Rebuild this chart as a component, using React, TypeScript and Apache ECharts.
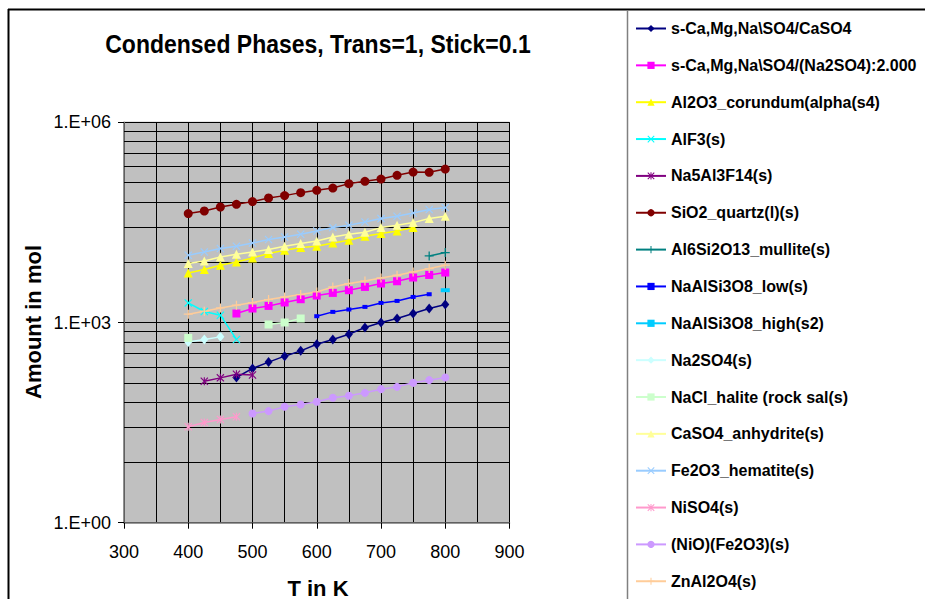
import React, { useEffect, useRef } from 'react';
import * as echarts from 'echarts';

// Temperatures (K) at which values are reported
const TEMPS = [400, 425, 450, 475, 500, 525, 550, 575, 600, 625, 650, 675, 700, 725, 750, 775, 800];

const X_TICKS = { min: 300, max: 900, interval: 100 };
const Y_RANGE = { min: 1, max: 1e6 };
// Excel-style minor gridlines of a base-1000 log axis
const Y_MINOR_LINES = [8, 27, 64, 125, 216, 343, 512, 729, 8000, 27000, 64000, 125000, 216000, 343000, 512000, 729000];

const N = null;
const sCaSO4 = [N, N, N, 150, 205, 255, 313, 376, 473, 557, 668, 842, 1000, 1148, 1364, 1620, 1860];
const sNa2SO4 = [N, N, N, 1364, 1620, 1773, 1995, 2233, 2535, 2775, 3047, 3412, 3836, 4150, 4720, 5160, 5606];
const al2o3 = [5530, 6213, 7211, 8077, 9270, 10790, 12080, 13270, 13870, 15550, 17060, 19590, 21490, 23500, 26430, N, N];
const alf3 = [1965, 1462, 1286, 557, N, N, N, N, N, N, N, N, N, N, N, N, N];
const na5al3f14 = [N, 132, 148, 168, 163, N, N, N, N, N, N, N, N, N, N, N, N];
const sio2 = [42850, 46880, 53800, 59040, 64770, 73340, 79660, 88320, 95700, 103500, 120500, 130400, 141200, 160400, 179600, 177900, 199200];
const mullite = [N, N, N, N, N, N, N, N, N, N, N, N, N, N, N, 9930, 11170];
const albiteLow = [N, N, N, N, N, N, N, N, 1242, 1442, 1566, 1713, 1965, 2105, 2417, 2652, N];
const albiteHigh = [N, N, N, N, N, N, N, N, N, N, N, N, N, N, N, N, 3047];
const na2so4 = [512, 557, 609, N, N, N, N, N, N, N, N, N, N, N, N, N, N];
const nacl = [588, N, N, N, N, 933, 1000, 1148, N, N, N, N, N, N, N, N, N];
const caso4 = [7640, 8360, 9590, 10530, 11400, 12380, 13870, 15230, 16660, 19110, 20990, 22490, 26430, 28620, 31400, 36060, 39000];
const fe2o3 = [10170, 11400, 12820, 13870, 15550, 17490, 19110, 20990, 23500, 26430, 28620, 32060, 36060, 39000, 43750, 49200, 52700];
const niso4 = [27.4, 31.8, 35.3, 38.6, N, N, N, N, N, N, N, N, N, N, N, N, N];
const nioFe2o3 = [N, N, N, N, 43.4, 47, 54.5, 59.2, 64.8, 74.4, 79.7, 88.3, 100.3, 108.6, 124.7, 136.8, 150.2];
const znal2o4 = [1331, 1476, 1655, 1815, 1991, 2208, 2417, 2625, 2872, 3412, 3836, 4197, 4652, 5105, 5720, 6430, 7211];

const X_PATH = 'path://M0,1L1,0L5,4L9,0L10,1L6,5L10,9L9,10L5,6L1,10L0,9L4,5Z';
const PLUS_PATH = 'path://M4.3,0H5.7V4.3H10V5.7H5.7V10H4.3V5.7H0V4.3H4.3Z';
const STAR_PATH = 'path://M0,1L1,0L5,4L9,0L10,1L6,5L10,9L9,10L5,6L1,10L0,9L4,5Z M4.3,0H5.7V10H4.3Z';

const SERIES_DEFS: { name: string; values: (number | null)[]; color: string; symbol: string; size: number | number[] }[] = [
  { name: 's-Ca,Mg,Na\\SO4/CaSO4', values: sCaSO4, color: '#000080', symbol: 'diamond', size: [8, 10] },
  { name: 's-Ca,Mg,Na\\SO4/(Na2SO4):2.000', values: sNa2SO4, color: '#FF00FF', symbol: 'rect', size: 8 },
  { name: 'Al2O3_corundum(alpha(s4)', values: al2o3, color: '#FFFF00', symbol: 'triangle', size: 9 },
  { name: 'AlF3(s)', values: alf3, color: '#00FFFF', symbol: X_PATH, size: 8 },
  { name: 'Na5Al3F14(s)', values: na5al3f14, color: '#800080', symbol: STAR_PATH, size: 8 },
  { name: 'SiO2_quartz(l)(s)', values: sio2, color: '#800000', symbol: 'circle', size: 9 },
  { name: 'Al6Si2O13_mullite(s)', values: mullite, color: '#008080', symbol: PLUS_PATH, size: 9 },
  { name: 'NaAlSi3O8_low(s)', values: albiteLow, color: '#0000FF', symbol: 'rect', size: [5, 4] },
  { name: 'NaAlSi3O8_high(s2)', values: albiteHigh, color: '#00CCFF', symbol: 'rect', size: [9, 4] },
  { name: 'Na2SO4(s)', values: na2so4, color: '#CCFFFF', symbol: 'diamond', size: [8, 10] },
  { name: 'NaCl_halite (rock sal(s)', values: nacl, color: '#CCFFCC', symbol: 'rect', size: 8 },
  { name: 'CaSO4_anhydrite(s)', values: caso4, color: '#FFFF99', symbol: 'triangle', size: 9 },
  { name: 'Fe2O3_hematite(s)', values: fe2o3, color: '#99CCFF', symbol: X_PATH, size: 8 },
  { name: 'NiSO4(s)', values: niso4, color: '#FF99CC', symbol: STAR_PATH, size: 8 },
  { name: '(NiO)(Fe2O3)(s)', values: nioFe2o3, color: '#CC99FF', symbol: 'circle', size: 8 },
  { name: 'ZnAl2O4(s)', values: znal2o4, color: '#FFCC99', symbol: PLUS_PATH, size: 9 },
];

const FONT = '"Liberation Sans", Arial, sans-serif';

function buildOption() {
  const series: any[] = SERIES_DEFS.map((d, idx) => {
    const s: any = {
      name: d.name,
      type: 'line',
      data: TEMPS.map((t, i) => (d.values[i] == null ? [t, '-'] : [t, d.values[i]])),
      symbol: d.symbol,
      symbolSize: d.size,
      showSymbol: true,
      showAllSymbol: true,
      connectNulls: false,
      lineStyle: { color: d.color, width: 1.5 },
      itemStyle: { color: d.color },
      emphasis: { disabled: true },
      z: 3,
    };
    if (idx === 0) {
      s.markLine = {
        silent: true,
        symbol: ['none', 'none'],
        label: { show: false },
        lineStyle: { color: '#000000', width: 1, type: 'solid' },
        emphasis: { disabled: true },
        z: 1,
        animation: false,
        data: Y_MINOR_LINES.map((v) => ({ yAxis: v })),
      };
    }
    return s;
  });

  return {
    animation: false,
    backgroundColor: '#FFFFFF',
    textStyle: { fontFamily: FONT },
    grid: {
      left: 124,
      top: 122.3,
      width: 385.5,
      height: 400.4,
      show: true,
      backgroundColor: '#C0C0C0',
      borderColor: '#808080',
      borderWidth: 1,
    },
    xAxis: {
      type: 'value',
      min: X_TICKS.min,
      max: X_TICKS.max,
      interval: X_TICKS.interval,
      axisLine: { show: true, lineStyle: { color: '#808080', width: 1.5 } },
      axisTick: { show: true, length: 6, lineStyle: { color: '#000000' } },
      axisLabel: { fontSize: 18, color: '#000000', margin: 20, fontFamily: FONT },
      splitLine: { show: true, lineStyle: { color: '#000000', width: 1 } },
      minorTick: { show: false, splitNumber: 2 },
      minorSplitLine: { show: true, lineStyle: { color: '#000000', width: 1 } },
    },
    yAxis: {
      type: 'log',
      logBase: 1000,
      min: Y_RANGE.min,
      max: Y_RANGE.max,
      axisLine: { show: true, lineStyle: { color: '#808080', width: 1.5 } },
      axisTick: { show: true, length: 6, lineStyle: { color: '#000000' } },
      axisLabel: {
        fontSize: 18,
        color: '#000000',
        margin: 13,
        fontFamily: FONT,
        formatter: (v: number) => {
          const e = Math.round(Math.log10(v));
          return '1.E+' + String(e).padStart(2, '0');
        },
      },
      splitLine: { show: true, lineStyle: { color: '#000000', width: 1 } },
    },
    legend: {
      orient: 'vertical',
      left: 630,
      top: 15.5,
      itemWidth: 30,
      itemHeight: 9,
      itemGap: 20.85,
      selectedMode: false,
      data: SERIES_DEFS.map((d) => d.name),
      textStyle: { fontSize: 16, fontWeight: 'bold', color: '#000000', lineHeight: 16, fontFamily: FONT },
    },
    graphic: [
      { type: 'line', shape: { x1: 8, y1: 9.5, x2: 925, y2: 9.5 }, style: { stroke: '#000000', lineWidth: 2 }, silent: true },
      { type: 'line', shape: { x1: 8.5, y1: 9, x2: 8.5, y2: 599 }, style: { stroke: '#000000', lineWidth: 2 }, silent: true },
      { type: 'line', shape: { x1: 627.5, y1: 10, x2: 627.5, y2: 599 }, style: { stroke: '#808080', lineWidth: 1.5 }, silent: true },
      {
        type: 'text',
        x: 318,
        y: 44,
        scaleY: 1.12,
        style: {
          text: 'Condensed Phases, Trans=1, Stick=0.1',
          fontSize: 23,
          fontWeight: 'bold',
          fontFamily: FONT,
          fill: '#000000',
          align: 'center',
          verticalAlign: 'middle',
        },
        silent: true,
      },
      {
        type: 'text',
        x: 318,
        y: 588,
        style: {
          text: 'T in K',
          fontSize: 22,
          fontWeight: 'bold',
          fontFamily: FONT,
          fill: '#000000',
          align: 'center',
          verticalAlign: 'middle',
        },
        silent: true,
      },
      {
        type: 'text',
        x: 33,
        y: 322,
        rotation: Math.PI / 2,
        style: {
          text: 'Amount in mol',
          fontSize: 22,
          fontWeight: 'bold',
          fontFamily: FONT,
          fill: '#000000',
          align: 'center',
          verticalAlign: 'middle',
        },
        silent: true,
      },
    ],
    series,
  };
}

export default function App() {
  const ref = useRef<HTMLDivElement>(null);
  useEffect(() => {
    if (!ref.current) return;
    const chart = echarts.init(ref.current, null, { renderer: 'svg' });
    chart.setOption(buildOption() as any);
    return () => chart.dispose();
  }, []);
  return (
    <div
      ref={ref}
      style={{ position: 'fixed', left: 0, top: 0, width: 925, height: 599, background: '#FFFFFF' }}
    />
  );
}
